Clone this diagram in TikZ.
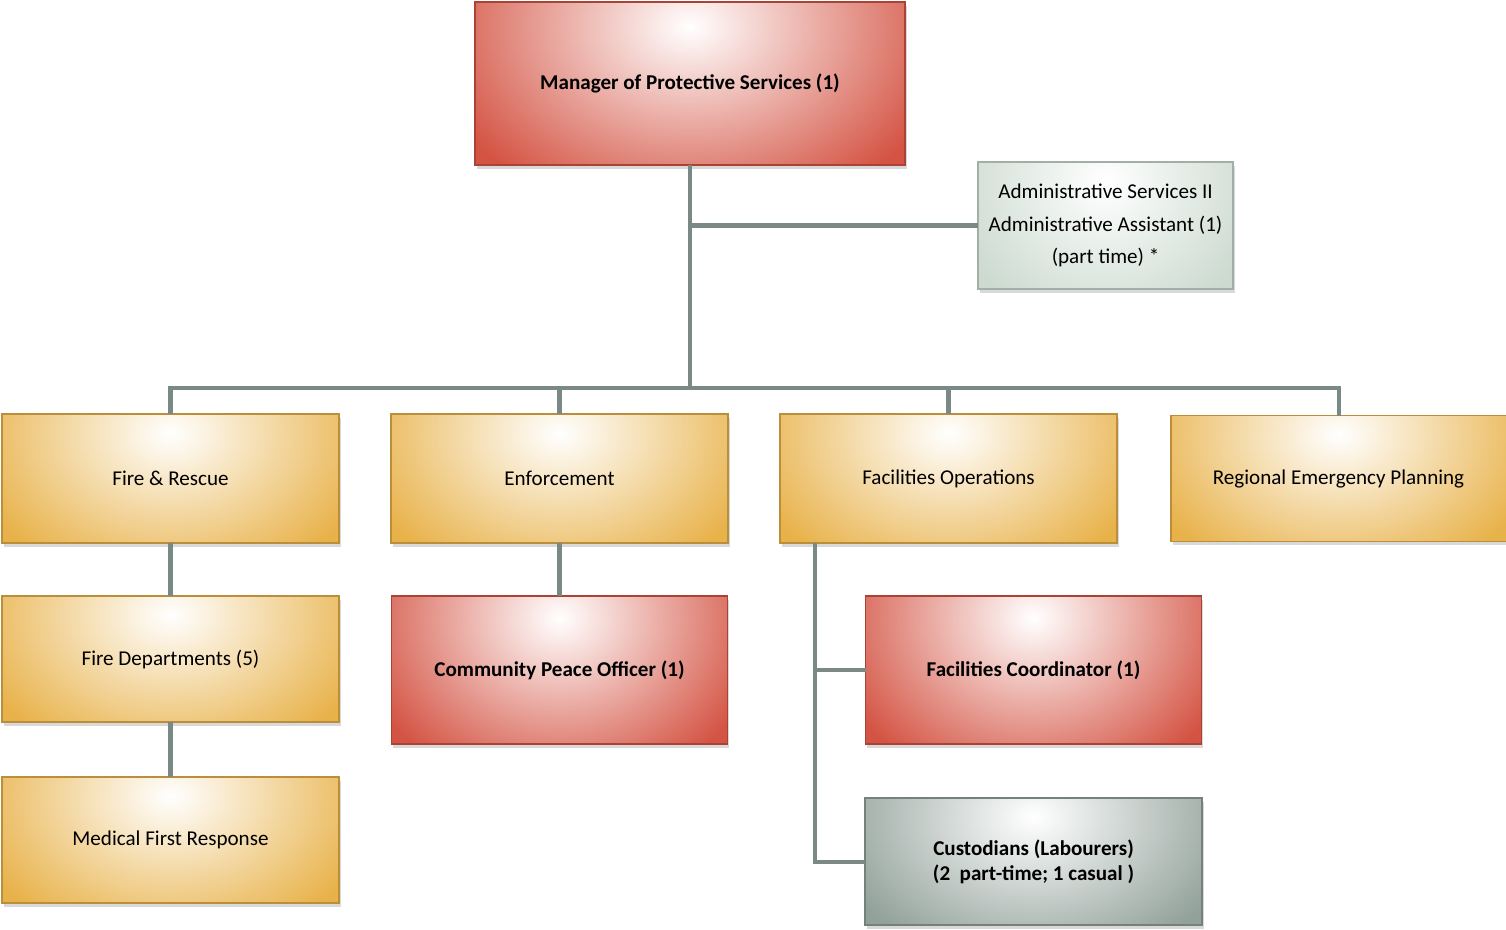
\documentclass[tikz,border=0pt]{standalone}
\usepackage{fontspec}
\setmainfont{Carlito}
\usepackage{tikz}
\usepackage{xcolor}
\usetikzlibrary{positioning, calc, shadows}

\definecolor{mgrred}{RGB}{212,84,68}
\definecolor{unitgold}{RGB}{232,178,74}
\definecolor{adminmint}{RGB}{204,218,208}
\definecolor{custgray}{RGB}{146,161,154}
\definecolor{linkgray}{RGB}{122,137,133}

\begin{document}
\begin{tikzpicture}[
        glow/.style={fill=#1, draw=#1!80!black, line width=0.6pt,
            drop shadow={shadow xshift=1pt, shadow yshift=-2pt, opacity=0.3},
            path picture={\shade[inner color=white, outer color=#1]
                let \p1=($(path picture bounding box.north east)-(path picture bounding box.south west)$) in
                ([yshift=-0.15*\y1]path picture bounding box.north) ellipse [x radius=0.62*\x1, y radius=1.2*\y1];}},
        boxbase/.style={rectangle, align=center, text=black, inner sep=2pt, outer sep=0pt, font=\fontsize{12}{14.2}\selectfont},
        mgrbox/.style={boxbase, glow=mgrred, minimum width=8.6cm, minimum height=3.26cm, font=\fontsize{12}{14.2}\selectfont\bfseries},
        unitbox/.style={boxbase, glow=unitgold, minimum width=6.74cm, minimum height=2.58cm},
        redbox/.style={boxbase, glow=mgrred, minimum width=6.72cm, minimum height=2.96cm, font=\fontsize{12}{14.2}\selectfont\bfseries},
        adminbox/.style={boxbase, glow=adminmint, minimum width=5.1cm, minimum height=2.54cm, font=\fontsize{12}{18.7}\selectfont},
        custbox/.style={boxbase, glow=custgray, minimum width=6.74cm, minimum height=2.54cm, font=\fontsize{12}{14.2}\selectfont\bfseries},
        link/.style={draw=linkgray, line width=2.3pt}
    ]

    \useasboundingbox (0,0) rectangle (30.12,-18.58);

    % --- Top ---
    \node[mgrbox] (mgr) at (13.8,-1.67) {Manager of Protective Services (1)};
    \node[adminbox] (admin) at (22.11,-4.51) {Administrative Services II\\Administrative Assistant (1)\\(part time) *};

    % --- Units ---
    \node[unitbox] (fire) at (3.41,-9.57) {Fire \& Rescue};
    \node[unitbox, right=1.04cm of fire] (enf) {Enforcement};
    \node[unitbox, right=1.04cm of enf] (facops) {Facilities Operations};
    \node[unitbox, right=1.08cm of facops, minimum width=6.7cm, minimum height=2.52cm] (regional) {Regional Emergency Planning};

    % --- Staff under the units ---
    \node[unitbox, below=1.06cm of fire, minimum height=2.52cm] (firedep) {Fire Departments (5)};
    \node[unitbox, below=1.1cm of firedep, minimum height=2.52cm] (medical) {Medical First Response};
    \node[redbox, below=1.06cm of enf] (cpo) {Community Peace Officer (1)};
    \node[redbox, right=2.76cm of cpo] (faccoord) {Facilities Coordinator (1)};
    \node[custbox, below=1.08cm of faccoord] (custod) {Custodians (Labourers)\\(2~ part-time; 1 casual )};

    % --- Connections ---
    \coordinate (bus) at (0,-7.76);
    \draw[link] (mgr.south) -- (mgr.south |- bus);
    \draw[link] (mgr.south |- admin.west) -- (admin.west);
    \draw[link] (fire.north) -- (fire.north |- bus) -- (regional.north |- bus) -- (regional.north);
    \foreach \unit in {enf, facops}
        \draw[link] (\unit.north |- bus) -- (\unit.north);

    \draw[link] (fire.south) -- (firedep.north);
    \draw[link] (firedep.south) -- (medical.north);
    \draw[link] (enf.south) -- (cpo.north);

    % Facilities trunk on the left of its staff
    \coordinate (trunk) at ($(facops.south west)+(0.7,0)$);
    \draw[link] (trunk) |- (custod.west);
    \draw[link] (trunk |- faccoord.west) -- (faccoord.west);

\end{tikzpicture}
\end{document}
